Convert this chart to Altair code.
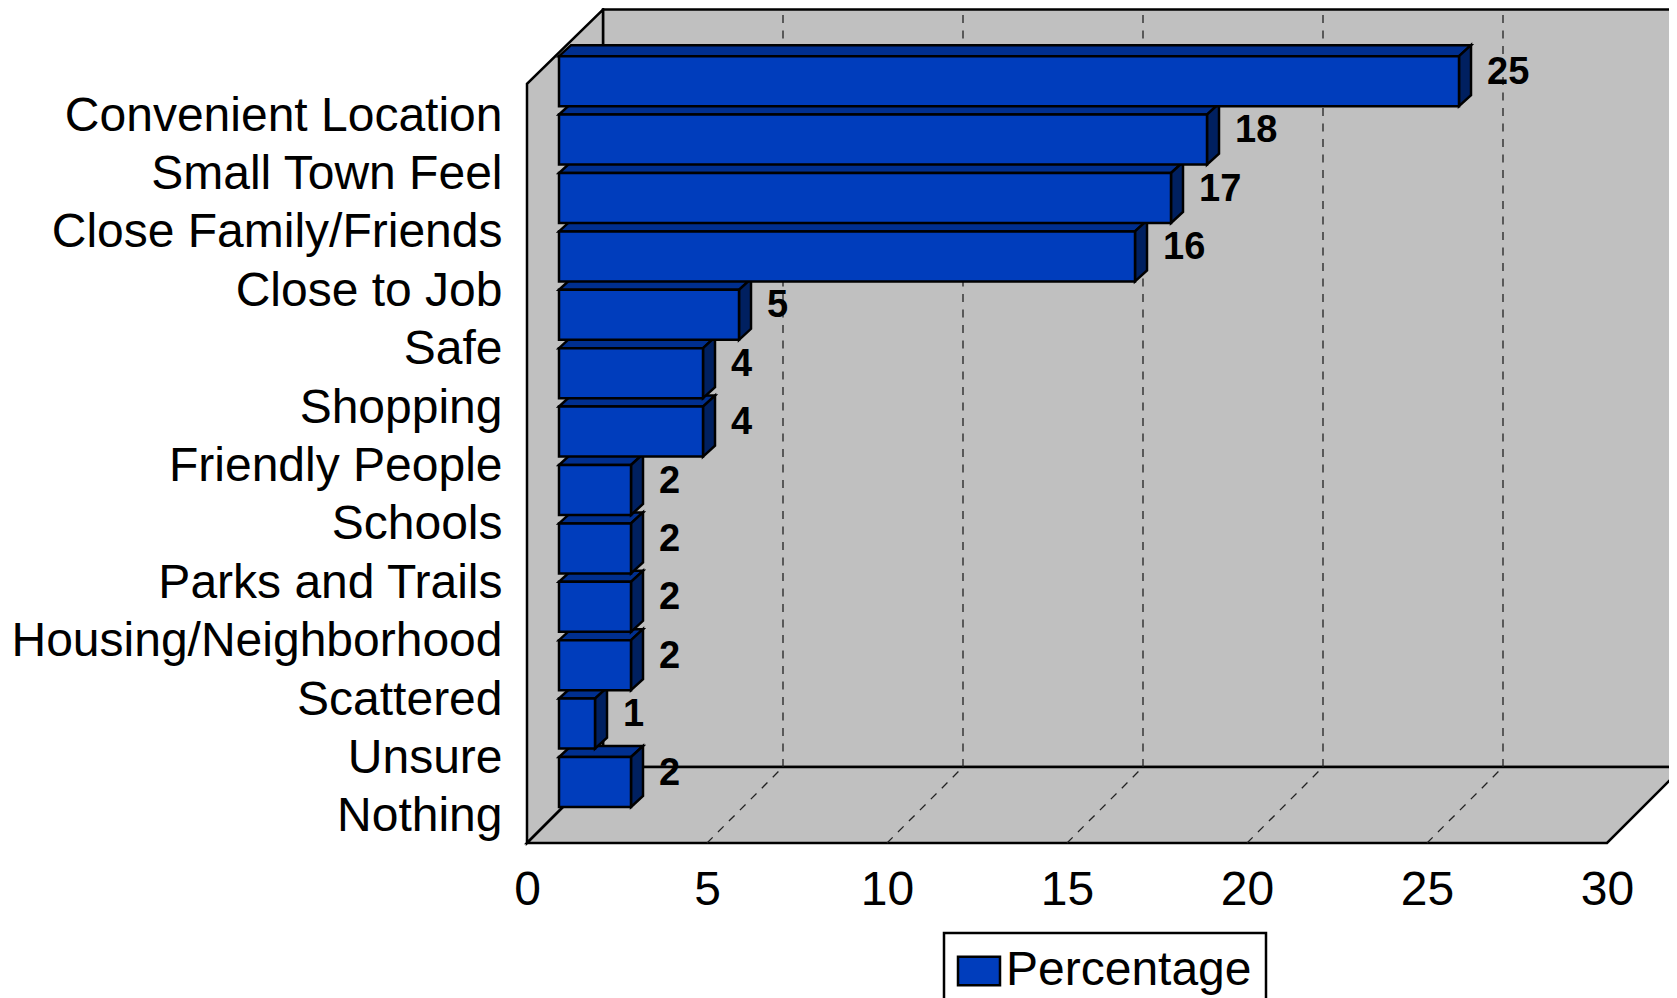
import json
import altair as alt
import pandas as pd

categories = ["Convenient Location", "Small Town Feel", "Close Family/Friends", "Close to Job", "Safe",
              "Shopping", "Friendly People", "Schools", "Parks and Trails", "Housing/Neighborhood",
              "Scattered", "Unsure", "Nothing"]
values = [25, 18, 17, 16, 5, 4, 4, 2, 2, 2, 2, 1, 2]
ticks = [0, 5, 10, 15, 20, 25, 30]
grid_ticks = [5, 10, 15, 20, 25]
series_name = "Percentage"

FONT = "Liberation Sans"
WALL = "#C0C0C0"
FRONT = "#003DBC"
TOP = "#002F8F"
SIDE = "#002060"
SW = 2.5

PX_X = 36.0      # pixels per value unit
PX_Y = 58.4      # pixels per category row
W, H = 1142, 835
n = len(categories)
DX, DY = 76 / PX_X, 76 / PX_Y            # depth of the box
BX, BY = 32 / PX_X, 36 / PX_Y            # bar start in the box
BDX, BDY = 12 / PX_X, 11 / PX_Y          # depth of a bar
BH = 50 / PX_Y                           # bar height
WALL_TOP = n + 74.2 / PX_Y
XMAX, YMAX = W / PX_X, H / PX_Y

sx = alt.Scale(domain=[0, XMAX], nice=False, zero=False)
sy = alt.Scale(domain=[0, YMAX], nice=False, zero=False)
labels_expr = json.dumps(categories[::-1])
x_axis = alt.Axis(values=ticks, domain=False, ticks=False, grid=False, title=None, labelFont=FONT,
                  labelFontSize=48, labelColor="black", labelPadding=23, labelFlush=False,
                  labelOverlap=False, labelBound=False, format="d")
y_axis = alt.Axis(values=[i + 0.5 for i in range(n)], domain=False, ticks=False, grid=False, title=None,
                  labelFont=FONT, labelFontSize=48, labelColor="black", labelPadding=25, labelLimit=700,
                  labelOverlap=False, labelBound=False, labelBaseline="middle", labelOffset=3,
                  labelExpr=f"{labels_expr}[floor(datum.value)]")


def X(f="x"):
    return alt.X(f"{f}:Q", scale=sx, axis=x_axis)


def Y(f="y"):
    return alt.Y(f"{f}:Q", scale=sy, axis=y_axis, stack=False)


# box
back = alt.Chart(pd.DataFrame([{"x": DX, "x2": XMAX + 5, "y": DY, "y2": WALL_TOP}])).mark_rect(
    fill=WALL, stroke="black", strokeWidth=SW).encode(x=X(), x2="x2:Q", y=Y(), y2="y2:Q")
left = alt.Chart(pd.DataFrame([{"x": 0, "y": 0, "y2": n}, {"x": DX, "y": DY, "y2": WALL_TOP}])).mark_area(
    fill=WALL, stroke="black", strokeWidth=SW).encode(x=X(), y=Y(), y2="y2:Q")
floor = alt.Chart(pd.DataFrame([
    {"x": 0, "y": 0, "y2": 0}, {"x": DX, "y": 0, "y2": DY},
    {"x": 30, "y": 0, "y2": DY}, {"x": 30 + DX, "y": DY, "y2": DY}])).mark_area(
    fill=WALL, stroke="black", strokeWidth=SW).encode(x=X(), y=Y(), y2="y2:Q")

# dashed gridlines: on the back wall and across the floor
grid_back = alt.Chart(pd.DataFrame({"x": [t + DX for t in grid_ticks], "y": DY, "y2": WALL_TOP})).mark_rule(
    color="#222222", strokeWidth=1.3, strokeDash=[8, 7.5]).encode(x=X(), y=Y(), y2="y2:Q")
grid_floor = alt.Chart(pd.DataFrame(
    [{"t": t, "x": t, "y": 0} for t in grid_ticks] + [{"t": t, "x": t + DX, "y": DY} for t in grid_ticks]
)).mark_line(color="#222222", strokeWidth=1.3, strokeDash=[8, 7.5]).encode(x=X(), y=Y(), detail="t:N")

# bars, bottom row first
top_rows, side_rows, front_rows, label_rows = [], [], [], []
for i in range(n - 1, -1, -1):
    v, r = values[i], n - 1 - i
    b = r + BY
    t = b + BH
    x0, x1 = BX, BX + v
    c = categories[i]
    top_rows += [{"c": c, "x": x0, "y": t, "y2": t},
                 {"c": c, "x": x0 + BDX, "y": t, "y2": t + BDY},
                 {"c": c, "x": x1, "y": t, "y2": t + BDY},
                 {"c": c, "x": x1 + BDX, "y": t + BDY, "y2": t + BDY}]
    side_rows += [{"c": c, "x": x1, "y": b, "y2": t},
                  {"c": c, "x": x1 + BDX, "y": b + BDY, "y2": t + BDY}]
    front_rows.append({"c": c, "s": series_name, "x": x0, "x2": x1, "y": b, "y2": t})
    label_rows.append({"x": x1 + 28 / PX_X, "y": (b + t) / 2 + 8.5 / PX_Y, "v": v})

bar_top = alt.Chart(pd.DataFrame(top_rows)).mark_area(fill=TOP, stroke="black", strokeWidth=SW).encode(
    x=X(), y=Y(), y2="y2:Q", detail="c:N")
bar_side = alt.Chart(pd.DataFrame(side_rows)).mark_area(fill=SIDE, stroke="black", strokeWidth=SW).encode(
    x=X(), y=Y(), y2="y2:Q", detail="c:N")
bar_front = alt.Chart(pd.DataFrame(front_rows)).mark_rect(stroke="black", strokeWidth=SW, opacity=1).encode(
    x=X(), x2="x2:Q", y=Y(), y2="y2:Q",
    color=alt.Color("s:N", scale=alt.Scale(domain=[series_name], range=[FRONT]),
                    legend=alt.Legend(title=None, orient="none", legendX=417, legendY=925, padding=14,
                                      strokeColor="black", fillColor="white",
                                      symbolType="M-1,-0.68L1,-0.68L1,0.68L-1,0.68Z", symbolSize=1764,
                                      symbolOffset=-3, symbolStrokeColor="black", symbolStrokeWidth=SW,
                                      symbolOpacity=1,
                                      labelFont=FONT, labelFontSize=48, labelColor="black", labelOffset=3,
                                      labelLimit=400)))
bar_labels = alt.Chart(pd.DataFrame(label_rows)).mark_text(
    font=FONT, fontSize=38, fontWeight="bold", color="black", align="left", baseline="middle").encode(
    x=X(), y=Y(), text="v:Q")

chart = alt.layer(back, left, floor, grid_back, grid_floor, bar_top, bar_side, bar_front, bar_labels).properties(
    width=W, height=H, background="white",
    padding={"left": 519, "top": 0, "right": 0, "bottom": 155},
    autosize=alt.AutoSizeParams(type="none", contains="content"),
).configure_view(stroke=None).configure_legend(strokeWidth=2.5)

chart.save("out.html", embed_options={"renderer": "svg", "actions": False})
